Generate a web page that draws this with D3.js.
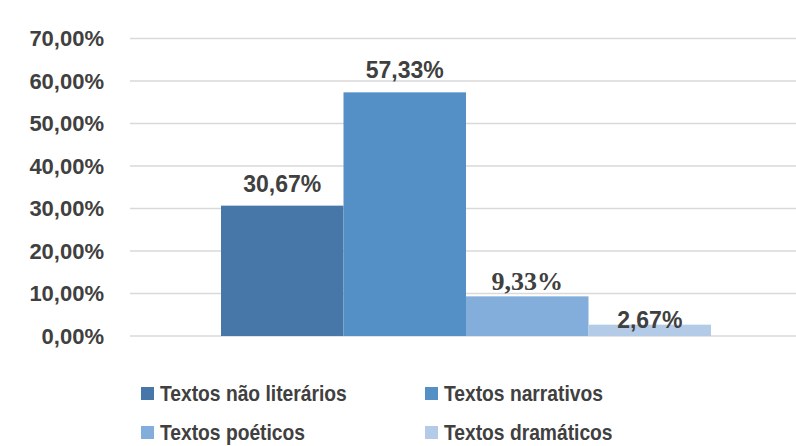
<!DOCTYPE html>
<html>
<head>
<meta charset="utf-8">
<script src="https://cdn.jsdelivr.net/npm/d3@7"></script>
<style>
  body { margin: 0; background: #fff; }
  svg { display: block; }
</style>
</head>
<body>
<svg id="chart" width="796" height="446"></svg>
<script>
// data
const categories = ["Textos não literários", "Textos narrativos", "Textos poéticos", "Textos dramáticos"];
const values = [0.3067, 0.5733, 0.0933, 0.0267];
const tickValues = [0, 0.1, 0.2, 0.3, 0.4, 0.5, 0.6, 0.7];
const colors = ["#4677a8", "#548fc6", "#83aedb", "#b4cbe8"];

const svg = d3.select("#chart");
const textColor = "#404040";
const sans = "'Liberation Sans', Arial, sans-serif";

const fmt = v => d3.format(".2f")(v * 100).replace(".", ",") + "%";

const y = d3.scaleLinear().domain([0, 0.7]).range([336, 38.5]);
const x = d3.scaleBand().domain(categories).range([221, 711]).padding(0);

// gridlines
svg.append("g")
  .selectAll("line")
  .data(tickValues)
  .enter()
  .append("line")
    .attr("x1", 130)
    .attr("x2", 796)
    .attr("y1", d => y(d))
    .attr("y2", d => y(d))
    .style("stroke", "#d9d9d9")
    .style("stroke-width", 1.5);

// y axis labels
const yAxis = d3.axisLeft(y).tickValues(tickValues).tickFormat(fmt).tickSize(0).tickPadding(0);
const ax = svg.append("g").attr("transform", "translate(104,0)").call(yAxis);
ax.select(".domain").remove();
ax.selectAll("text")
  .attr("font-family", sans)
  .attr("font-weight", "bold")
  .attr("font-size", 22)
  .attr("fill", textColor);

// bars
svg.append("g")
  .selectAll("rect")
  .data(values)
  .enter()
  .append("rect")
    .attr("x", (d, i) => x(categories[i]))
    .attr("width", x.bandwidth())
    .attr("y", d => y(d))
    .attr("height", d => y(0) - y(d))
    .style("fill", (d, i) => colors[i]);

// value labels (the third one came out in a serif face in the original)
const labelGap = [14, 14, 6, -3];
svg.append("g")
  .selectAll("text")
  .data(values)
  .enter()
  .append("text")
    .attr("x", (d, i) => x(categories[i]) + x.bandwidth() / 2)
    .attr("y", (d, i) => y(d) - labelGap[i])
    .attr("text-anchor", "middle")
    .attr("font-family", (d, i) => i === 2 ? "'Liberation Serif', 'Times New Roman', serif" : sans)
    .attr("font-weight", "bold")
    .attr("font-size", (d, i) => i === 2 ? 26 : 23)
    .attr("fill", textColor)
    .text(fmt);

// legend, 2 columns
const legend = svg.append("g")
  .selectAll("g")
  .data(categories)
  .enter()
  .append("g")
    .attr("transform", (d, i) => `translate(${i % 2 === 0 ? 141 : 425},${i < 2 ? 401 : 440})`);

legend.append("rect")
  .attr("x", 0)
  .attr("y", -14)
  .attr("width", 13)
  .attr("height", 13)
  .style("fill", (d, i) => colors[i]);

// narrower, taller lettering like the original
legend.append("text")
  .attr("transform", "translate(19,0) scale(0.875,1)")
  .attr("font-family", sans)
  .attr("font-weight", "bold")
  .attr("font-size", 22)
  .attr("fill", textColor)
  .text(d => d);
</script>
</body>
</html>
